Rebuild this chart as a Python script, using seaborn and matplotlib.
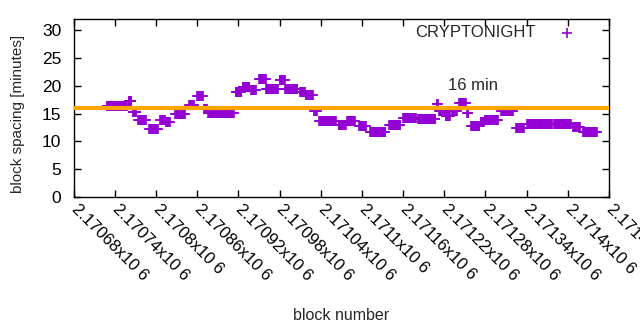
import numpy as np
import pandas as pd
import seaborn as sns
import matplotlib
matplotlib.use("Agg")
import matplotlib.pyplot as plt

# Plateaus of block spacing: first block, last block, minutes
seg_first = [2170728, 2170760, 2170766, 2170774, 2170790, 2170806, 2170814, 2170828,
             2170848, 2170860, 2170870, 2170876, 2170916, 2170926, 2170938, 2170950,
             2170960, 2170980, 2170988, 2171010, 2171018, 2171030, 2171038, 2171066,
             2171078, 2171096, 2171112, 2171140, 2171160, 2171182, 2171209, 2171212,
             2171222, 2171231, 2171242, 2171253, 2171259, 2171273, 2171279, 2171303,
             2171325, 2171341, 2171380, 2171408, 2171422]
seg_last = [2170757, 2170764, 2170771, 2170785, 2170802, 2170813, 2170820, 2170842,
            2170855, 2170868, 2170874, 2170913, 2170924, 2170936, 2170945, 2170960,
            2170977, 2170988, 2171006, 2171017, 2171028, 2171034, 2171062, 2171076,
            2171090, 2171106, 2171134, 2171156, 2171178, 2171207, 2171211, 2171220,
            2171228, 2171238, 2171251, 2171255, 2171271, 2171278, 2171298, 2171320,
            2171336, 2171377, 2171404, 2171418, 2171442]
seg_value = [16.3, 17.2, 15.2, 13.8, 12.2, 13.8, 13.5, 15.0,
             16.6, 18.2, 15.8, 15.1, 18.8, 19.8, 19.2, 21.3,
             19.4, 21.0, 19.4, 18.8, 18.4, 15.4, 13.7, 13.0,
             13.7, 12.8, 11.7, 13.0, 14.2, 14.0, 16.7, 15.5,
             14.6, 15.5, 16.9, 15.1, 12.8, 13.5, 13.9, 15.4,
             12.4, 13.2, 13.1, 12.5, 11.7]

x_ticks = [2170680, 2170740, 2170800, 2170860, 2170920, 2170980, 2171040,
           2171100, 2171160, 2171220, 2171280, 2171340, 2171400, 2171460]
x_labels = ["2.17068x10 6", "2.17074x10 6", "2.1708x10 6", "2.17086x10 6",
            "2.17092x10 6", "2.17098x10 6", "2.17104x10 6", "2.1711x10 6",
            "2.17116x10 6", "2.17122x10 6", "2.17128x10 6", "2.17134x10 6",
            "2.1714x10 6", "2.17146x10 6"]
y_ticks = [0, 5, 10, 15, 20, 25, 30]
target_minutes = 16
series_name = "CRYPTONIGHT"

blocks = []
values = []
for a, b, v in zip(seg_first, seg_last, seg_value):
    for blk in range(a, b + 1):
        blocks.append(blk)
        values.append(v)
df = pd.DataFrame({"block": blocks, "spacing": values})

sns.set_theme(style="ticks")
plt.rcParams["font.family"] = ["Liberation Sans", "DejaVu Sans"]
plt.rcParams["font.size"] = 11

fig = plt.figure(figsize=(6.4, 3.3), dpi=100)
ax = fig.add_axes([73.8 / 640, 133 / 330, 535.2 / 640, 178 / 330])

sns.scatterplot(data=df, x="block", y="spacing", marker="+", s=45,
                color="#9400D3", linewidth=1.2, ax=ax, label=series_name,
                zorder=2)
ax.axhline(target_minutes, color="#FFA500", lw=3.0, zorder=3)
ax.text(2171226, 20.0, "16 min", fontsize=12, va="center", ha="left")

ax.set_xlim(x_ticks[0], x_ticks[-1])
ax.set_ylim(0, 32)
ax.set_xticks(x_ticks)
ax.set_xticklabels(x_labels, rotation=-45, ha="left", va="center",
                   rotation_mode="anchor", fontsize=12)
ax.set_yticks(y_ticks)
ax.set_yticklabels([str(v) for v in y_ticks], fontsize=12.5)
ax.tick_params(axis="both", direction="in", length=5, width=1, top=True,
               right=True, colors="black")
ax.tick_params(axis="y", pad=9)
ax.tick_params(axis="x", pad=7)
for sp in ax.spines.values():
    sp.set_visible(True)
    sp.set_linewidth(1.0)
    sp.set_color("black")
ax.set_xlabel("block number", fontsize=11.5, va="center")
ax.xaxis.set_label_coords(0.5, (197 - 316) / 178)
ax.set_ylabel("block spacing [minutes]", fontsize=11, va="center")
ax.yaxis.set_label_coords((18 - 73.8) / 535.2, (197 - 114) / 178)

leg = ax.legend(loc="upper right", bbox_to_anchor=(0.975, 1.03), frameon=False,
                markerfirst=False, handletextpad=0.9, fontsize=12,
                borderaxespad=0.3)

fig.savefig("out.png", dpi=100)
